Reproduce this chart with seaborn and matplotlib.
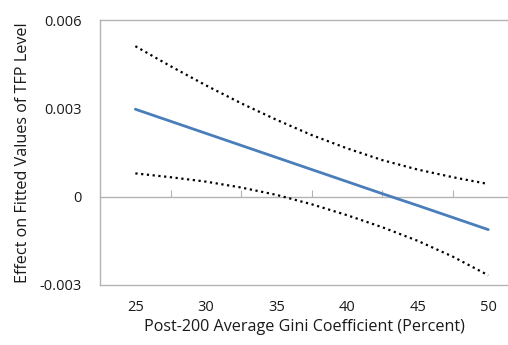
import matplotlib; matplotlib.use("Agg")
import matplotlib.pyplot as plt
import seaborn as sns
import pandas as pd

gini = [25, 27.5, 30, 32.5, 35, 37.5, 40, 42.5, 45, 47.5, 50]
effect = [0.00297, 0.00256, 0.00215, 0.00174, 0.00133, 0.00092, 0.00051, 0.00010, -0.00030, -0.00071, -0.00112]
upper = [0.00511, 0.00443, 0.00378, 0.00317, 0.00261, 0.00209, 0.00164, 0.00124, 0.00092, 0.00066, 0.00043]
lower = [0.00079, 0.00066, 0.00051, 0.00031, 0.00006, -0.00026, -0.00063, -0.00104, -0.00150, -0.00204, -0.00267]
yticks = [-0.003, 0, 0.003, 0.006]
ylabels = ["-0.003", "0", "0.003", "0.006"]
xticks = [25, 30, 35, 40, 45, 50]
axis_ticks = [27.5, 32.5, 37.5, 42.5, 47.5]

df = pd.DataFrame({"gini": gini, "effect": effect, "upper": upper, "lower": lower})

sns.set_style("white")
plt.rcParams["font.family"] = ["Open Sans", "DejaVu Sans"]
GRAY = "#b3b3b3"

fig = plt.figure(figsize=(5.08, 3.45), dpi=100)
ax = fig.add_axes([0.197, 0.174, 0.803, 0.768])

sns.lineplot(data=df, x="gini", y="upper", color="black", lw=1.6, ls=(0, (1, 1.6)), ax=ax)
sns.lineplot(data=df, x="gini", y="lower", color="black", lw=1.6, ls=(0, (1, 1.6)), ax=ax)
sns.lineplot(data=df, x="gini", y="effect", color="#4a7ebb", lw=2.0, ax=ax)

ax.set_xlim(22.5, 51.4); ax.set_ylim(-0.003, 0.006)
ax.set_xticks(xticks); ax.set_xticklabels([str(t) for t in xticks])
ax.set_yticks(yticks); ax.set_yticklabels(ylabels)
ax.tick_params(axis="x", length=0, labelsize=10.5, pad=11, colors="#1a1a1a")
ax.tick_params(axis="y", direction="in", length=4, color=GRAY, labelsize=10.5, pad=13, labelcolor="#1a1a1a")
for s in ["left", "top", "bottom"]:
    ax.spines[s].set_color(GRAY); ax.spines[s].set_linewidth(1.0)
ax.spines["right"].set_visible(False)

# zero axis with category-style tick marks
zero = ax.secondary_xaxis(1/3)
zero.set_xticks(axis_ticks); zero.set_xticklabels([""] * len(axis_ticks))
zero.tick_params(direction="in", length=5, color=GRAY)
zero.spines["bottom"].set_color(GRAY); zero.spines["bottom"].set_linewidth(1.0)

ax.set_xlabel("Post-200 Average Gini Coefficient (Percent)", fontsize=11.6, labelpad=3, color="#1a1a1a")
ax.set_ylabel("Effect on Fitted Values of TFP Level", fontsize=11.6, labelpad=6, color="#1a1a1a")

plt.savefig("out.png", dpi=100)
